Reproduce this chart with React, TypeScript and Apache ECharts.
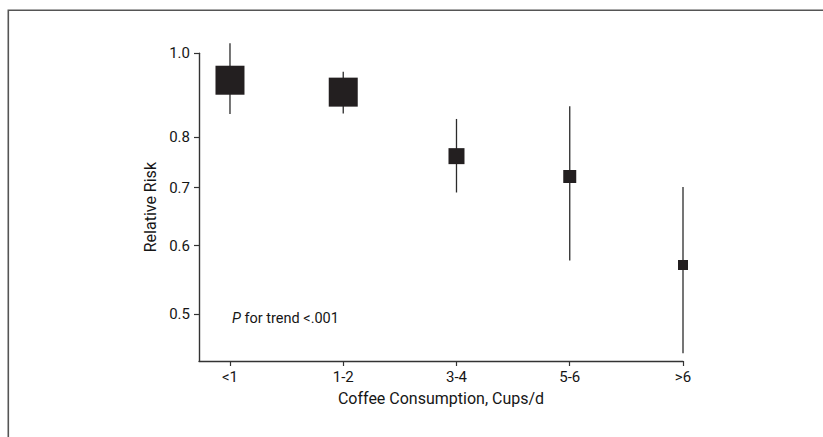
import React, { useEffect, useRef } from "react";
import * as echarts from "echarts";

const categories = ["<1", "1-2", "3-4", "5-6", ">6"];
const relativeRisk = [0.931, 0.902, 0.761, 0.721, 0.57];
const ciLower = [0.851, 0.852, 0.691, 0.577, 0.451];
const ciUpper = [1.027, 0.952, 0.84, 0.869, 0.701];
const yTickValues = [0.5, 0.6, 0.7, 0.8, 1.0];
const yMin = 0.4417;
const yMax = 1.0;

// marker side lengths (style)
const squareSize = [29, 29, 16, 13, 10];

const FONT = 'Roboto, "Liberation Sans", sans-serif';
const TEXT = "#161616";
const AXIS = "#333";

export default function App() {
  const ref = useRef<HTMLDivElement>(null);
  useEffect(() => {
    if (!ref.current) return;
    const chart = echarts.init(ref.current, null, { renderer: "svg" });
    const ln = Math.log;
    const xs = categories.map((_, i) => i + 1);
    const option: any = {
      animation: false,
      backgroundColor: "#fff",
      textStyle: { fontFamily: FONT },
      grid: { left: 199, right: 140, top: 53.3, bottom: 76, containLabel: false },
      xAxis: {
        type: "value",
        min: 0.7264,
        max: 5,
        name: "Coffee Consumption, Cups/d",
        nameLocation: "middle",
        nameGap: 29,
        nameTextStyle: { fontSize: 16, color: TEXT, fontFamily: FONT },
        axisLine: { show: true, onZero: false, lineStyle: { color: AXIS, width: 1.4 } },
        axisTick: { show: true, length: 5, customValues: xs, lineStyle: { color: AXIS, width: 1.2 } },
        axisLabel: {
          customValues: xs,
          margin: 8,
          fontSize: 15,
          color: TEXT,
          fontFamily: FONT,
          formatter: (v: number) => categories[Math.round(v) - 1] ?? "",
        },
        splitLine: { show: false },
      },
      yAxis: {
        type: "value",
        min: ln(yMin),
        max: ln(yMax),
        name: "Relative Risk",
        nameLocation: "middle",
        nameGap: 36,
        nameTextStyle: { fontSize: 16, color: TEXT, fontFamily: FONT },
        axisLine: { show: true, onZero: false, lineStyle: { color: AXIS, width: 1.4 } },
        axisTick: { show: true, length: 5, customValues: yTickValues.map(ln), lineStyle: { color: AXIS, width: 1.2 } },
        axisLabel: {
          customValues: yTickValues.map(ln),
          margin: 9,
          fontSize: 15,
          color: TEXT,
          fontFamily: FONT,
          formatter: (v: number) => Math.exp(v).toFixed(1),
        },
        splitLine: { show: false },
      },
      graphic: [
        {
          type: "rect",
          shape: { x: 8.3, y: 10.2, width: 900, height: 500 },
          style: { fill: "none", stroke: "#555", lineWidth: 1.6 },
          silent: true,
        },
        {
          type: "text",
          left: 232,
          top: 311,
          style: {
            text: "{i|P} for trend <.001",
            fontSize: 14.5,
            fontFamily: FONT,
            fill: TEXT,
            rich: { i: { fontStyle: "italic", fontSize: 14.5, fontFamily: FONT, fill: TEXT } },
          },
        },
      ],
      series: [
        {
          type: "custom",
          clip: false,
          data: xs.map((x, i) => [x, ln(ciLower[i]), ln(ciUpper[i])]),
          renderItem: (params: any, api: any) => {
            const lo = api.coord([api.value(0), api.value(1)]);
            const hi = api.coord([api.value(0), api.value(2)]);
            return {
              type: "line",
              shape: { x1: lo[0], y1: lo[1], x2: hi[0], y2: hi[1] },
              style: { stroke: "#2b2b2b", lineWidth: 1.3 },
            };
          },
          z: 1,
        },
        {
          type: "scatter",
          symbol: "rect",
          clip: false,
          data: xs.map((x, i) => ({ value: [x, ln(relativeRisk[i])], symbolSize: squareSize[i] })),
          itemStyle: { color: "#231f20", opacity: 1 },
          z: 2,
        },
      ],
    };
    chart.setOption(option);
    return () => chart.dispose();
  }, []);
  return (
    <div
      ref={ref}
      style={{ position: "fixed", left: 0, top: 0, width: 823, height: 437, background: "#fff" }}
    />
  );
}
